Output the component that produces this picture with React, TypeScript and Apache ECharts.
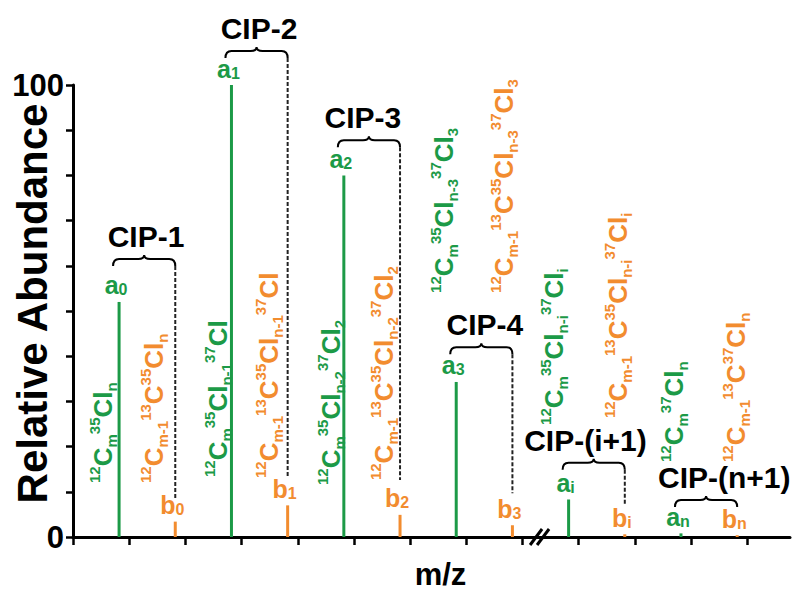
import React, { useEffect, useRef } from 'react';
import * as echarts from 'echarts';

const GREEN = '#1c9a47';
const ORANGE = '#f28c2f';
const FONT = '"Liberation Sans", Arial, Helvetica, sans-serif';

// Peaks (x in m/z tick units, y in relative abundance)
const greenX = [0.82, 2.82, 4.82, 6.82, 8.82, 10.82];
const greenY = [52, 100, 80, 34.3, 8.3, 0.8];
const greenSub = ['0', '1', '2', '3', 'i', 'n'];
const orangeX = [1.82, 3.82, 5.82, 7.82, 9.82, 11.82];
const orangeY = [3.4, 7, 4.9, 2.6, 0.6, 0.4];
const orangeSub = ['0', '1', '2', '3', 'i', 'n'];

// Isotopologue formulas (rich-text markup: s = superscript, b = main, d = subscript)
const greenFormulas = [
  '{s|12}{b|C}{d|m}{s|35}{b|Cl}{d|n}',
  '{s|12}{b|C}{d|m}{s|35}{b|Cl}{d|n-1}{s|37}{b|Cl}',
  '{s|12}{b|C}{d|m}{s|35}{b|Cl}{d|n-2}{s|37}{b|Cl}{d|2}',
  '{s|12}{b|C}{d|m}{s|35}{b|Cl}{d|n-3}{s|37}{b|Cl}{d|3}',
  '{s|12}{b|C}{d|m}{s|35}{b|Cl}{d|n-i}{s|37}{b|Cl}{d|i}',
  '{s|12}{b|C}{d|m}{s|37}{b|Cl}{d|n}',
];
const orangeFormulas = [
  '{s|12}{b|C}{d|m-1}{s|13}{b|C}{s|35}{b|Cl}{d|n}',
  '{s|12}{b|C}{d|m-1}{s|13}{b|C}{s|35}{b|Cl}{d|n-1}{s|37}{b|Cl}',
  '{s|12}{b|C}{d|m-1}{s|13}{b|C}{s|35}{b|Cl}{d|n-2}{s|37}{b|Cl}{d|2}',
  '{s|12}{b|C}{d|m-1}{s|13}{b|C}{s|35}{b|Cl}{d|n-3}{s|37}{b|Cl}{d|3}',
  '{s|12}{b|C}{d|m-1}{s|13}{b|C}{s|35}{b|Cl}{d|n-i}{s|37}{b|Cl}{d|i}',
  '{s|12}{b|C}{d|m-1}{s|13}{b|C}{s|37}{b|Cl}{d|n}',
];
// formula anchors in data units (x = text baseline, y = text start)
const greenFormulaX = [0.694, 2.74, 4.751, 6.762, 8.719, 10.854];
const greenFormulaY = [11.95, 13.27, 11.5, 54.0, 24.8, 16.6];
const orangeFormulaX = [1.601, 3.648, 5.694, 7.829, 9.858, 11.957];
const orangeFormulaY = [11.95, 13.05, 12.6, 54.0, 26.3, 16.6];

// Cluster ion peak groups
const cipLabels = ['CIP-1', 'CIP-2', 'CIP-3', 'CIP-4', 'CIP-(i+1)', 'CIP-(n+1)'];
const cipLevel = [61.5, 107.5, 87.8, 42.0, 16.4, 8.2];
const cipLabelX = [1.3, 3.31, 5.16, 7.33, 9.12, 11.59];
const cipDashEnd: (number | null)[] = [8.6, 13.3, 12.6, 9.7, 7.1, null];

const xTickValues = [0, 1, 2, 3, 4, 5, 6, 7, 8, 9, 10, 11, 12];
const yLabelValues = [0, 100];
const breakAt = 8.33;

function formulaRich(color: string) {
  return {
    b: { fontSize: 26, fontWeight: 'bold', fontFamily: FONT, fill: color, lineHeight: 32 },
    s: { fontSize: 15, fontWeight: 'bold', fontFamily: FONT, fill: color, lineHeight: 15, verticalAlign: 'top' },
    d: { fontSize: 15, fontWeight: 'bold', fontFamily: FONT, fill: color, lineHeight: 15, verticalAlign: 'bottom' },
  };
}

function peakLabel(color: string, subs: string[], letter: string) {
  return {
    show: true,
    position: 'top',
    distance: 4,
    offset: [-3, 0],
    formatter: (p: any) => `{m|${letter}}{s|${subs[p.dataIndex]}}`,
    rich: {
      m: { fontSize: 25, fontWeight: 'bold', fontFamily: FONT, color, lineHeight: 25, verticalAlign: 'bottom' },
      s: { fontSize: 16, fontWeight: 'bold', fontFamily: FONT, color, lineHeight: 18, verticalAlign: 'bottom' },
    },
  };
}

export default function App() {
  const ref = useRef<HTMLDivElement>(null);
  useEffect(() => {
    if (!ref.current) return;
    const chart = echarts.init(ref.current, null, { renderer: 'svg' });
    const allFormulas = [...greenFormulas, ...orangeFormulas];
    const allFX = [...greenFormulaX, ...orangeFormulaX];
    const allFY = [...greenFormulaY, ...orangeFormulaY];
    const allColors = [...greenFormulas.map(() => GREEN), ...orangeFormulas.map(() => ORANGE)];
    const option: any = {
      animation: false,
      textStyle: { fontFamily: FONT },
      grid: { left: 73, right: 4, top: 85, bottom: 55, containLabel: false, outerBoundsMode: 'none' },
      xAxis: {
        type: 'value',
        min: 0,
        max: 12.76,
        name: 'm/z',
        nameLocation: 'middle',
        nameGap: 22,
        nameMoveOverlap: false,
        nameTextStyle: { fontSize: 31, fontWeight: 'bold', color: '#000', fontFamily: FONT, padding: [0, 0, 0, 18] },
        axisLine: { show: true, lineStyle: { color: '#000', width: 3 } },
        axisTick: { show: true, length: 8, lineStyle: { color: '#000', width: 2.5 }, customValues: xTickValues },
        axisLabel: { show: false },
        splitLine: { show: false },
      },
      yAxis: {
        type: 'value',
        min: 0,
        max: 100,
        interval: 10,
        name: 'Relative Abundance',
        nameLocation: 'middle',
        nameGap: 20,
        nameMoveOverlap: false,
        nameTextStyle: { fontSize: 42, fontWeight: 'bold', color: '#000', fontFamily: FONT, padding: [0, 0, 0, 15] },
        axisLine: { show: true, lineStyle: { color: '#000', width: 3 } },
        axisTick: { show: true, length: 7, lineStyle: { color: '#000', width: 2.5 } },
        axisLabel: {
          margin: 9,
          fontSize: 31,
          fontWeight: 'bold',
          color: '#000',
          fontFamily: FONT,
          formatter: (v: number) => (yLabelValues.includes(v) ? String(v) : ''),
        },
        splitLine: { show: false },
      },
      series: [
        {
          type: 'bar',
          data: greenX.map((x, i) => [x, greenY[i]]),
          barWidth: 3,
          barGap: '-100%',
          itemStyle: { color: GREEN },
          label: peakLabel(GREEN, greenSub, 'a'),
          emphasis: { disabled: true },
          z: 3,
        },
        {
          type: 'bar',
          data: orangeX.map((x, i) => [x, orangeY[i]]),
          barWidth: 3,
          barGap: '-100%',
          itemStyle: { color: ORANGE },
          label: peakLabel(ORANGE, orangeSub, 'b'),
          emphasis: { disabled: true },
          z: 3,
        },
        {
          type: 'custom',
          clip: false,
          silent: true,
          z: 4,
          data: allFX.map((x, i) => [x, allFY[i]]),
          renderItem: (params: any, api: any) => {
            const i = params.dataIndex;
            const p = api.coord([allFX[i], allFY[i]]);
            return {
              type: 'text',
              x: p[0] + 7,
              y: p[1],
              rotation: Math.PI / 2,
              style: {
                text: allFormulas[i],
                fill: allColors[i],
                font: `bold 26px ${FONT}`,
                align: 'left',
                verticalAlign: 'bottom',
                rich: formulaRich(allColors[i]),
              },
            };
          },
        },
        {
          type: 'custom',
          clip: false,
          silent: true,
          z: 5,
          data: cipLabels.map((_, i) => [cipLabelX[i], cipLevel[i]]),
          renderItem: (params: any, api: any) => {
            const i = params.dataIndex;
            const y = api.coord([0, cipLevel[i]])[1];
            const xl = api.coord([greenX[i], 0])[0] - 6;
            const xr = api.coord([orangeX[i], 0])[0];
            const cx = (xl + xr) / 2;
            const lx = api.coord([cipLabelX[i], 0])[0];
            const d =
              `M${xl} ${y + 7} Q${xl} ${y} ${xl + 6} ${y} L${cx - 6} ${y} Q${cx} ${y} ${cx} ${y - 4} ` +
              `Q${cx} ${y} ${cx + 6} ${y} L${xr - 6} ${y} Q${xr} ${y} ${xr} ${y + 7}`;
            const children: any[] = [
              { type: 'path', shape: { pathData: d }, style: { stroke: '#000', lineWidth: 2, fill: 'none' } },
              {
                type: 'text',
                x: lx,
                y: y - 7.5,
                style: {
                  text: cipLabels[i],
                  font: `bold 30px ${FONT}`,
                  fill: '#000',
                  align: 'center',
                  verticalAlign: 'bottom',
                },
              },
            ];
            const de = cipDashEnd[i];
            if (de != null) {
              const ye = api.coord([0, de])[1];
              children.push({
                type: 'line',
                shape: { x1: xr, y1: y + 7, x2: xr, y2: ye },
                style: { stroke: '#222', lineWidth: 2, lineDash: [4, 2] },
              });
            }
            return { type: 'group', children };
          },
        },
        {
          type: 'custom',
          clip: false,
          silent: true,
          z: 6,
          data: [[breakAt, 0]],
          renderItem: (_params: any, api: any) => {
            const p = api.coord([breakAt, 0]);
            return {
              type: 'group',
              children: [
                { type: 'line', shape: { x1: p[0] - 11, y1: p[1] + 8, x2: p[0] + 1, y2: p[1] - 8 }, style: { stroke: '#000', lineWidth: 3 } },
                { type: 'line', shape: { x1: p[0] - 4, y1: p[1] + 8, x2: p[0] + 8, y2: p[1] - 8 }, style: { stroke: '#000', lineWidth: 3 } },
              ],
            };
          },
        },
      ],
    };
    chart.setOption(option);
    return () => chart.dispose();
  }, []);
  return (
    <div
      ref={ref}
      style={{ position: 'fixed', left: 0, top: 0, width: 794, height: 592, background: '#fff' }}
    />
  );
}
